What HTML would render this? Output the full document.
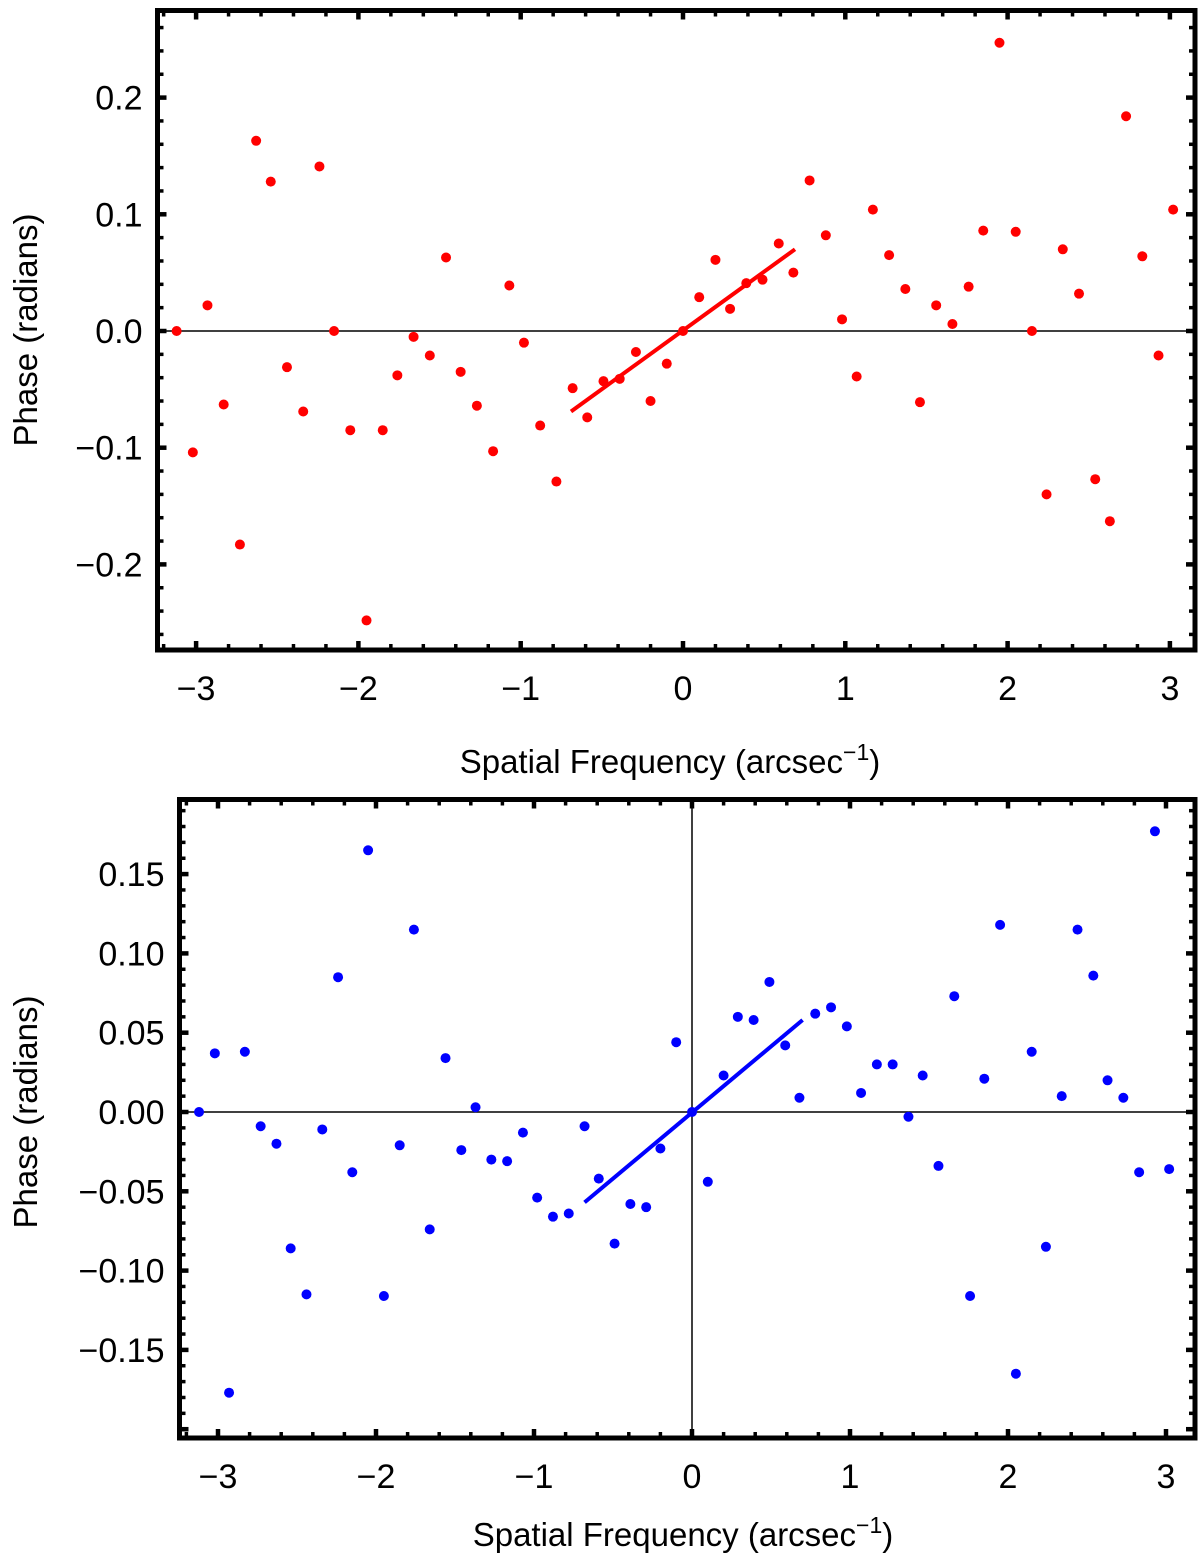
<!DOCTYPE html>
<html><head><meta charset="utf-8"><style>
html,body{margin:0;padding:0;background:#fff;}
svg{display:block;font-family:"Liberation Sans",Arial,sans-serif;}
</style></head><body>
<svg id="chart" width="1200" height="1558" viewBox="0 0 1200 1558"></svg>
<script>
const freq = [-3.12,-3.02,-2.93,-2.83,-2.73,-2.63,-2.54,-2.44,-2.34,-2.24,-2.15,-2.05,-1.95,-1.85,-1.76,-1.66,-1.56,-1.46,-1.37,-1.27,-1.17,-1.07,-0.98,-0.88,-0.78,-0.68,-0.59,-0.49,-0.39,-0.29,-0.20,-0.10,0.00,0.10,0.20,0.29,0.39,0.49,0.59,0.68,0.78,0.88,0.98,1.07,1.17,1.27,1.37,1.46,1.56,1.66,1.76,1.85,1.95,2.05,2.15,2.24,2.34,2.44,2.54,2.63,2.73,2.83,2.93,3.02];
const phaseRed = [0,-0.104,0.022,-0.063,-0.183,0.163,0.128,-0.031,-0.069,0.141,0,-0.085,-0.248,-0.085,-0.038,-0.005,-0.021,0.063,-0.035,-0.064,-0.103,0.039,-0.010,-0.081,-0.129,-0.049,-0.074,-0.043,-0.041,-0.018,-0.060,-0.028,0,0.029,0.061,0.019,0.041,0.044,0.075,0.050,0.129,0.082,0.010,-0.039,0.104,0.065,0.036,-0.061,0.022,0.006,0.038,0.086,0.247,0.085,0,-0.140,0.070,0.032,-0.127,-0.163,0.184,0.064,-0.021,0.104];
const phaseBlue = [0,0.037,-0.177,0.038,-0.009,-0.020,-0.086,-0.115,-0.011,0.085,-0.038,0.165,-0.116,-0.021,0.115,-0.074,0.034,-0.024,0.003,-0.030,-0.031,-0.013,-0.054,-0.066,-0.064,-0.009,-0.042,-0.083,-0.058,-0.060,-0.023,0.044,0,-0.044,0.023,0.060,0.058,0.082,0.042,0.009,0.062,0.066,0.054,0.012,0.030,0.030,-0.003,0.023,-0.034,0.073,-0.116,0.021,0.118,-0.165,0.038,-0.085,0.010,0.115,0.086,0.020,0.009,-0.038,0.177,-0.036];
const fitRedX = [-0.69,0.69];
const fitRedY = [-0.069,0.070];
const fitBlueX = [-0.68,0.70];
const fitBlueY = [-0.057,0.058];
const xTicks = [-3,-2,-1,0,1,2,3];
const yTicksTop = [-0.2,-0.1,0.0,0.1,0.2];
const yTickLabelsTop = ["\u22120.2","\u22120.1","0.0","0.1","0.2"];
const yTicksBot = [-0.15,-0.10,-0.05,0,0.05,0.10,0.15];
const yTickLabelsBot = ["\u22120.15","\u22120.10","\u22120.05","0.00","0.05","0.10","0.15"];

const NS="http://www.w3.org/2000/svg";
const svg=document.getElementById('chart');
function mk(tag,attrs,parent){const e=document.createElementNS(NS,tag);for(const k in attrs)e.setAttribute(k,attrs[k]);(parent||svg).appendChild(e);return e;}
function fmtX(v){return v<0?"\u2212"+Math.abs(v):String(v);}

function panel(cfg){
  const g=mk('g',{});
  
  
  const X=v=>cfg.x0+v*cfg.xs, Y=v=>cfg.y0-v*cfg.ys;
  const L=cfg.L,R=cfg.R,T=cfg.T,B=cfg.B;
  const hz=mk('line',{x1:L,x2:R,y1:Y(0),y2:Y(0),stroke:'#000','stroke-width':1.5},g);
  
  
  if(cfg.vaxis){const vz=mk('line',{x1:X(0),x2:X(0),y1:T,y2:B,stroke:'#000','stroke-width':1.5},g);
    
    }
  for(let v=-3.4;v<=3.4;v+=0.2){const vv=Math.round(v*10)/10;const x=X(vv);if(x<L+3||x>R-3)continue;
    const major=Math.abs(vv-Math.round(vv))<1e-6;const len=major?9:6;const w=major?4.5:3.5;
    mk('line',{x1:x,x2:x,y1:B,y2:B-len,stroke:'#000','stroke-width':w},g);
    mk('line',{x1:x,x2:x,y1:T,y2:T+len,stroke:'#000','stroke-width':w},g);}
  for(const v of xTicks){const t=mk('text',{x:X(v),y:B+50,'font-size':34,'text-anchor':'middle'},g);t.textContent=fmtX(v);
    
    }
  for(let i=-40;i<=40;i++){const vv=i*cfg.minor;const y=Y(vv);if(y<T+3||y>B-3)continue;
    const major=Math.abs(vv/cfg.major-Math.round(vv/cfg.major))<1e-6;const len=major?9:6;const w=major?4.5:3.5;
    mk('line',{x1:L,x2:L+len,y1:y,y2:y,stroke:'#000','stroke-width':w},g);
    mk('line',{x1:R,x2:R-len,y1:y,y2:y,stroke:'#000','stroke-width':w},g);}
  cfg.yt.forEach((v,i)=>{const t=mk('text',{x:L-15,y:Y(v)+12,'font-size':34,'text-anchor':'end'},g);t.textContent=cfg.ytl[i];
    
    });
  const fr=mk('rect',{x:L,y:T,width:R-L,height:B-T,fill:'none',stroke:'#000','stroke-width':5},g);
  
  
  cfg.data.forEach((v,i)=>{const c=mk('circle',{cx:X(freq[i]),cy:Y(v),r:5,fill:cfg.color},g);
    
    });
  const fl=mk('line',{x1:X(cfg.fx[0]),y1:Y(cfg.fy[0]),x2:X(cfg.fx[1]),y2:Y(cfg.fy[1]),stroke:cfg.color,'stroke-width':4},g);
  
  
  const xt=mk('text',{x:cfg.xtx,y:cfg.xty,'font-size':33,'text-anchor':'middle'},g);
  xt.textContent='Spatial Frequency (arcsec';
  const sup=mk('tspan',{dy:-13,'font-size':23},xt);sup.textContent='\u22121';
  const cl=mk('tspan',{dy:13},xt);cl.textContent=')';
  
  
  const yl=mk('text',{x:0,y:0,'font-size':33,'text-anchor':'middle',transform:`translate(37,${cfg.yty}) rotate(-90)`},g);
  yl.textContent='Phase (radians)';
  
  
}
panel({name:'top-panel',x0:683,xs:162.3,y0:331,ys:1167,L:157.5,R:1195,T:10.5,B:650,major:0.1,minor:0.02,
  yt:yTicksTop,ytl:yTickLabelsTop,data:phaseRed,color:'#ff0000',fx:fitRedX,fy:fitRedY,xtx:670,xty:773,yty:330,vaxis:false});
panel({name:'bottom-panel',x0:692,xs:158,y0:1112,ys:1586,L:179.5,R:1195,T:799.5,B:1438,major:0.05,minor:0.01,
  yt:yTicksBot,ytl:yTickLabelsBot,data:phaseBlue,color:'#0000ff',fx:fitBlueX,fy:fitBlueY,xtx:683,xty:1546,yty:1112,vaxis:true});
</script>
</body></html>
